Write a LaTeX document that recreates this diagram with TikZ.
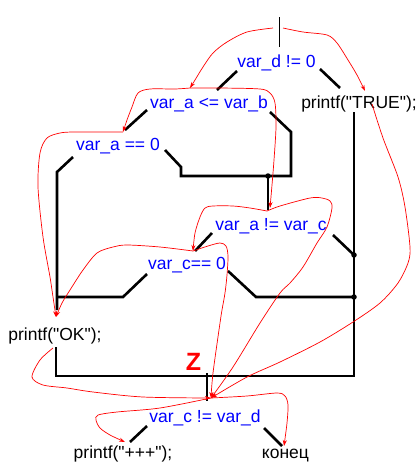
\documentclass[tikz,border=0pt]{standalone}
\usepackage{fontspec}
\newfontfamily\lsans{Liberation Sans}
\setmainfont{Liberation Sans}
\usetikzlibrary{arrows.meta}
\definecolor{condblue}{RGB}{0,0,255}
\definecolor{flowred}{RGB}{255,0,0}
\begin{document}
\begin{tikzpicture}[x=1pt,y=-1pt,
  cond/.style={text=condblue, inner sep=0pt, anchor=base, font=\lsans\fontsize{17.5}{20}\selectfont},
  stmt/.style={text=black, inner sep=0pt, anchor=base, font=\lsans\fontsize{17.5}{20}\selectfont},
  wire/.style={line width=2.6pt, line join=miter},
  thinwire/.style={line width=1pt},
  flow/.style={draw=flowred, line width=0.7pt, -{Stealth[length=6pt,width=4pt]}},
  joint/.style={circle, fill=black, inner sep=0pt, minimum size=5.5pt}
]
\useasboundingbox (0,0) rectangle (418,469);

% text nodes
\node[cond] (vd) at (276.5,67) {var\_d != 0};
\node[cond] (vab) at (209,108) {var\_a <= var\_b};
\node[stmt] (ptrue) at (359,108) {printf("TRUE");};
\node[cond] (vaz) at (118,150) {var\_a == 0};
\node[cond] (vac) at (271,230) {var\_a != var\_c};
\node[cond] (vcz) at (187,269) {var\_c== 0};
\node[stmt] (pok) at (55,340) {printf("OK");};
\node[text=flowred, inner sep=0pt, anchor=base, font=\lsans\fontsize{25}{28}\selectfont\bfseries] (z) at (193.5,370) {Z};
\node[cond] (vcd) at (205,422) {var\_c != var\_d};
\node[stmt] (pplus) at (123,458) {printf("+++");};
\node[stmt] (kon) at (285.5,458) {конец};

% junction points
\node[joint] (j1) at (268,176) {};
\node[joint] (j2) at (354,255) {};
\node[joint] (j3) at (354,297) {};

% wire coordinates
\coordinate (t0) at (279,17);
\coordinate (t1) at (279,47);
\coordinate (a1) at (237,71);  \coordinate (a2) at (217,90);
\coordinate (b1) at (320,69);  \coordinate (b2) at (340,88);
\coordinate (c1) at (147,110); \coordinate (c2) at (125,130);
\coordinate (d1) at (270,112); \coordinate (d2) at (291,132); \coordinate (d3) at (291,176);
\coordinate (e1) at (165,150); \coordinate (e2) at (181,167); \coordinate (e3) at (181,176);
\coordinate (f1) at (268,210);
\coordinate (g1) at (354,112); \coordinate (g2) at (354,376); \coordinate (g3) at (56,376); \coordinate (g4) at (56,347);
\coordinate (h1) at (73,157);  \coordinate (h2) at (57,172); \coordinate (h3) at (57,310);
\coordinate (k1) at (57,297);  \coordinate (k2) at (123,297); \coordinate (k3) at (147,274);
\coordinate (m1) at (212,233); \coordinate (m2) at (195,251);
\coordinate (n1) at (333,235);
\coordinate (p1) at (228,271); \coordinate (p2) at (256,297);
\coordinate (q1) at (207,373); \coordinate (q2) at (207,401);
\coordinate (r1) at (147,426); \coordinate (r2) at (130,442);
\coordinate (s1) at (264,428); \coordinate (s2) at (282,446);

% black wires
\draw[thinwire] (t0) -- (t1);
\draw[wire] (a1) -- (a2);
\draw[wire] (b1) -- (b2);
\draw[wire] (c1) -- (c2);
\draw[wire] (d1) -- (d2) -- (d3) -- (e3) -- (e2) -- (e1);
\draw[wire] (j1.center) -- (f1);
\draw[wire] (g1) -- (g2) -- (g3) -- (g4);
\draw[wire] (h1) -- (h2) -- (h3);
\draw[wire] (k1) -- (k2) -- (k3);
\draw[wire] (m1) -- (m2);
\draw[wire] (n1) -- (j2.center);
\draw[wire] (p1) -- (p2) -- (j3.center);
\draw[wire] (q1) -- (q2);
\draw[wire] (r1) -- (r2);
\draw[wire] (s1) -- (s2);

% flow end points
\coordinate (P0) at (190,88);
\coordinate (P1) at (123,132);
\coordinate (P2) at (267,211);
\coordinate (P3) at (193,251);
\coordinate (P4) at (56,317);
\coordinate (PZ) at (211,398);

% red flows
\draw[flow] plot[smooth] coordinates {(273,28) (247,32) (227,42) (213,53) (203,67) (195,80) (P0)};
\draw[flow] plot[smooth] coordinates {(283,28) (303,32) (327,35) (337,43) (348,60) (357,75) (365,91)};
\draw[flow] plot[smooth] coordinates {(372,104) (383,138) (398,177) (405,207) (410,247) (408,263) (398,283) (380,303) (353,322) (320,342) (280,362) (247,377) (PZ)};
\draw[flow] plot[smooth] coordinates {(P0) (175,89) (150,89) (138,93) (132,107) (127,120) (P1)};
\draw[flow] plot[smooth] coordinates {(P0) (220,88) (260,89) (270,93) (275,103) (276,127) (274,160) (272,185) (270,208)};
\draw[flow] plot[smooth] coordinates {(P1) (100,132) (73,132) (60,133) (47,138) (40,153) (38,187) (43,237) (50,277) (53,297) (P4)};
\draw[flow] plot[smooth] coordinates {(P2) (250,208) (233,206) (213,206) (205,208) (200,217) (195,233) (P3)};
\draw[flow] plot[smooth] coordinates {(P2) (280,206) (310,198) (322,198) (330,201) (332,208) (327,227) (317,243) (303,267) (290,283) (280,293) (260,323) (233,367) (PZ)};
\draw[flow] plot[smooth] coordinates {(P3) (160,247) (127,245) (113,247) (97,253) (83,270) (70,290) (62,303) (P4)};
\draw[flow] plot[smooth] coordinates {(P3) (208,246) (220,243) (226,246) (228,256) (227,275) (225,293) (222,310) (220,323) (213,373) (PZ)};
\draw[flow] plot[smooth] coordinates {(53,348) (40,360) (32,377) (43,385) (67,388) (93,392) (143,397) (PZ)};
\draw[flow] plot[smooth] coordinates {(PZ) (160,408) (117,412) (98,415) (96,420) (100,428) (110,435) (125,442)};
\draw[flow] plot[smooth] coordinates {(PZ) (247,396) (277,393) (285,396) (288,405) (287,423) (284,446)};
\end{tikzpicture}
\end{document}
